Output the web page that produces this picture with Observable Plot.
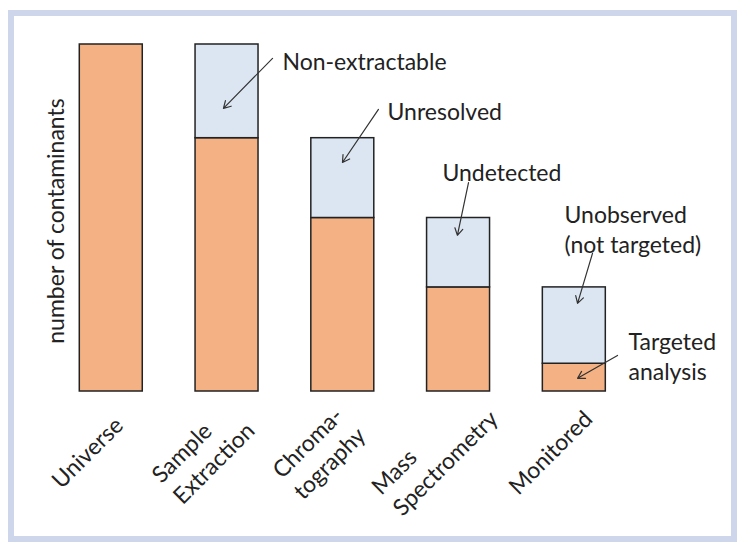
<!DOCTYPE html>
<html>
<head>
<meta charset="utf-8">
<script src="https://cdn.jsdelivr.net/npm/d3@7"></script>
<script src="https://cdn.jsdelivr.net/npm/@observablehq/plot@0.6"></script>
<style>
  body { margin: 0; background: #fff; }
  #wrap { position: relative; width: 737px; height: 542px; overflow: hidden; }
  #border { position: absolute; left: 8px; top: 10px; width: 717px; height: 520px; border: 6px solid #cdd6ea; }
  #chart { position: absolute; left: 0; top: 0; }
</style>
</head>
<body>
<div id="wrap"><div id="border"></div><div id="chart"></div></div>
<script>
// ---- data ----
const categories = ["Universe", "Sample\nExtraction", "Chroma-\ntography", "Mass\nSpectrometry", "Monitored"];
const retained = [100, 73, 50, 30, 8];   // orange part (still observed)
const lost = [0, 27, 23, 20, 22];        // light blue part (lost at this stage)

const annotationText = ["Non-extractable", "Unresolved", "Undetected", "Unobserved\n(not targeted)", "Targeted\nanalysis"];
const annotationX = [1.479, 2.386, 2.861, 3.915, 4.468];
const annotationY = [95.5, 81.1, 63.5, 47.1, 10.5];

const arrowX1 = [1.393, 2.308, 3.086, 4.157, 4.373];
const arrowY1 = [96.0, 81.3, 60.2, 39.8, 10.4];
const arrowX2 = [0.969, 1.997, 2.990, 4.028, 4.028];
const arrowY2 = [81.6, 66.0, 45.0, 25.4, 3.8];

const yLabel = "number of contaminants";

// ---- build ----
const FONT = "Lato, 'Open Sans', sans-serif";
const FS = 23;
const INK = "#222";
const ORANGE = "#f4b183";
const BLUE = "#dce6f2";
const HALF = 0.272;

const rows = categories.map((c, i) => ({i, c, retained: retained[i], lost: lost[i]}));
const ann = annotationText.map((t, i) => ({t, x: annotationX[i], y: annotationY[i]}));
const arrows = arrowX1.map((_, i) => ({x1: arrowX1[i], y1: arrowY1[i], x2: arrowX2[i], y2: arrowY2[i]}));

const ctx = document.createElement("canvas").getContext("2d");
ctx.font = `${FS}px Lato`;
const k = Math.SQRT1_2;
const labelMarks = rows.map(r => {
  const W = d3.max(r.c.split("\n"), s => ctx.measureText(s).width);
  return Plot.text([r], {
    x: "i", y: () => 0, text: "c",
    rotate: -45, textAnchor: "start", lineAnchor: "middle", lineHeight: 1.3,
    fontSize: FS, fill: INK,
    dx: -25 - (W / 2) * k, dy: 60 + (W / 2) * k
  });
});

const chart = Plot.plot({
  width: 737,
  height: 542,
  marginLeft: 52.9,
  marginRight: 105.3,
  marginTop: 44,
  marginBottom: 151,
  x: {domain: [-0.5, 4.5], axis: null},
  y: {domain: [0, 100], axis: null},
  style: {fontFamily: FONT, fontSize: `${FS}px`, background: "transparent", color: INK},
  marks: [
    Plot.rectY(rows, {x1: d => d.i - HALF, x2: d => d.i + HALF, y1: 0, y2: "retained", fill: ORANGE, stroke: INK, strokeWidth: 1.5}),
    Plot.rectY(rows.filter(d => d.lost > 0), {x1: d => d.i - HALF, x2: d => d.i + HALF, y1: "retained", y2: d => d.retained + d.lost, fill: BLUE, stroke: INK, strokeWidth: 1.5}),
    Plot.arrow(arrows, {x1: "x1", y1: "y1", x2: "x2", y2: "y2", stroke: "#333", strokeWidth: 1.2, headLength: 10}),
    Plot.text(ann, {x: "x", y: "y", text: "t", textAnchor: "start", lineAnchor: "middle", lineHeight: 1.3, fontSize: FS, fill: INK}),
    Plot.text([yLabel], {frameAnchor: "left", textAnchor: "middle", lineAnchor: "middle", rotate: -90, dx: 3, dy: 3, fontSize: FS, fill: INK}),
    ...labelMarks
  ]
});
document.getElementById("chart").appendChild(chart);
</script>
</body>
</html>
